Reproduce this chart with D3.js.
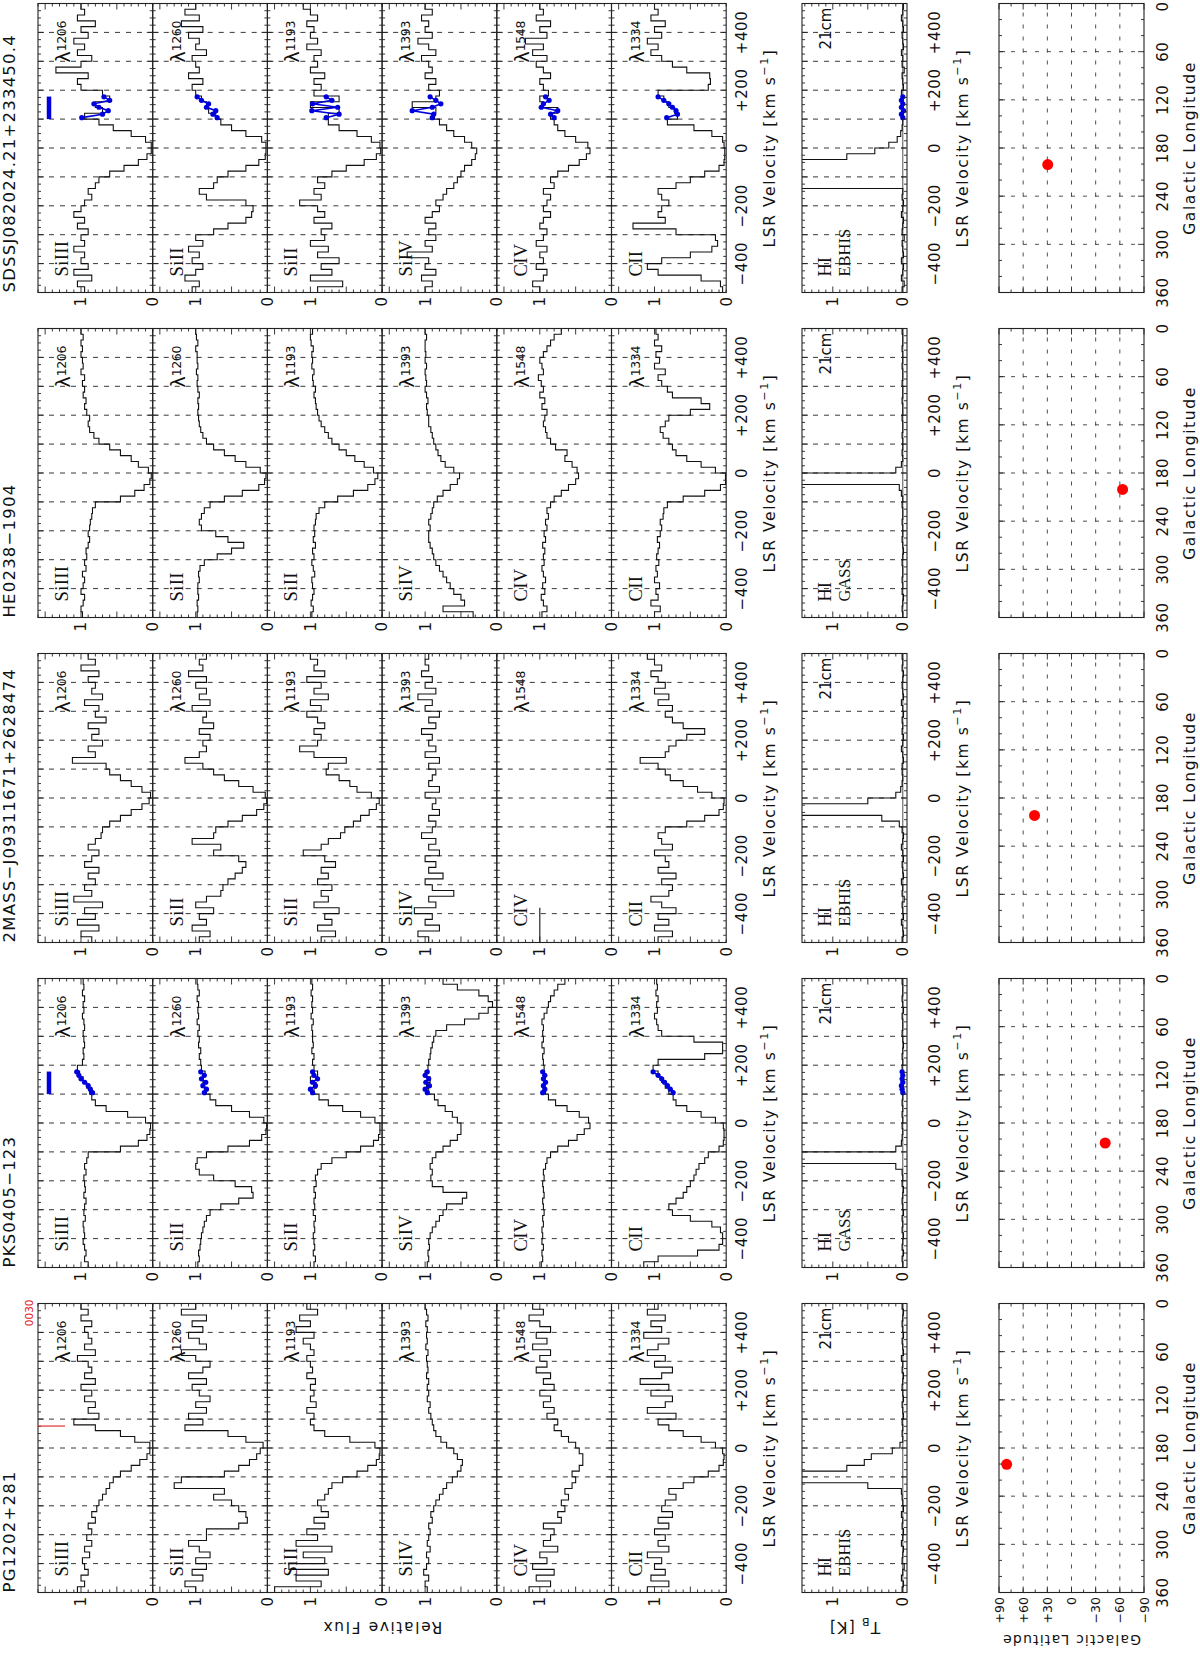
<!DOCTYPE html>
<html>
<head>
<meta charset="utf-8">
<title>HVC absorption spectra</title>
<script src="https://d3js.org/d3.v7.min.js"></script>
<style>
  body { margin: 0; background: #fff; }
  svg text { font-family: "DejaVu Sans", sans-serif; fill: #111; }
  .serif { font-family: "Liberation Serif", "DejaVu Serif", serif; }
</style>
</head>
<body>
<div id="chart"></div>
<script>
// ---------------- data ----------------
const quasars = ["PG1202+281", "PKS0405\u2212123", "2MASS\u2212J09311671+2628474", "HE0238\u22121904", "SDSSJ082024.21+233450.4"];
const ions = ["SiIII", "SiII", "SiII", "SiIV", "CIV", "CII"];
const lambdas = ["1206", "1260", "1193", "1393", "1548", "1334"];
const hiSurvey = ["EBHIS", "GASS", "EBHIS", "GASS", "EBHIS"];
const velTicks = ["\u2212400", "\u2212200", "0", "+200", "+400"];
const lonTicks = [360, 300, 240, 180, 120, 60, 0];
const latTicks = ["+90", "+60", "+30", "0", "\u221230", "\u221260", "\u221290"];

// bin centres of the spectra, km/s (20 km/s bins)
const velocity = d3.range(-490, 500, 20);

// relative flux, one array per quasar and line
const pg_1206 = [1.05,0.95,1.0,0.9,0.95, 0.98,0.88,0.95,0.85,0.92, 0.85,0.9,0.8,0.85,0.78, 0.75,0.7,0.65,0.6,0.55, 0.45,0.3,0.18,0.08,0.04, 0.04,0.25,0.45,0.8,1.1, 0.75,0.9,0.8,0.95,0.85, 1.0,0.8,0.95,0.85,0.9, 1.05,0.8,0.95,0.85,0.9, 0.95,0.85,1.0,0.9,1.0];
const pg_1260 = [1.0,1.15,0.9,1.05,0.85, 1.0,0.8,0.95,1.1,0.85, 0.85,0.4,0.28,0.3,0.4, 0.5,0.75,0.6,1.3,1.2, 0.6,0.4,0.25,0.15,0.1, 0.06,0.3,0.55,1.15,0.9, 1.1,0.85,1.0,0.8,0.95, 1.05,0.85,1.1,0.9,0.8, 1.0,1.2,0.85,0.95,1.1, 0.9,1.05,0.85,1.2,1.0];
const pg_1193 = [1.5,0.85,1.2,0.75,1.3, 0.8,1.1,0.7,1.2,0.9, 1.05,0.8,0.95,0.75,0.85, 0.9,0.8,0.75,0.7,0.55, 0.35,0.2,0.08,0.04,0.03, 0.1,0.45,0.8,0.95,1.0, 0.95,1.05,0.92,1.0,0.95, 1.0,0.93,1.05,0.97,1.0, 1.05,0.95,1.0,1.1,0.95, 1.2,1.0,1.15,0.9,1.05];
const pg_1393 = [0.97,1.0,0.95,1.02,0.98, 0.95,0.98,0.93,0.97,0.95, 0.93,0.95,0.9,0.92,0.88, 0.85,0.8,0.75,0.7,0.62, 0.55,0.5,0.48,0.55,0.6, 0.7,0.78,0.85,0.88,0.9, 0.92,0.95,0.93,0.97,0.95, 0.97,0.95,0.98,0.96,0.97, 0.98,0.96,0.99,0.97,0.98, 0.97,0.99,0.96,0.98,1.0];
const pg_1548 = [1.15,0.85,1.05,0.8,1.1, 0.9,1.0,0.75,0.95,0.85, 0.8,0.95,0.7,0.75,0.65, 0.7,0.6,0.65,0.55,0.5, 0.55,0.45,0.4,0.4,0.45, 0.5,0.6,0.7,0.8,0.75, 0.9,0.8,0.95,0.85,1.0, 0.8,0.95,0.85,1.05,0.9, 1.0,0.85,1.1,0.9,1.05, 0.85,1.0,1.15,0.95,1.1];
const pg_1334 = [1.1,0.8,1.05,0.85,1.0, 0.9,1.1,0.8,0.95,0.85, 1.0,0.8,0.95,0.75,0.9, 0.85,0.7,0.8,0.6,0.45, 0.25,0.1,0.04,0.03,0.05, 0.15,0.35,0.6,0.8,0.95, 0.7,1.1,0.85,0.75,1.05, 0.8,1.2,0.9,0.75,1.0, 0.85,1.1,0.95,0.8,1.15, 0.9,1.05,0.85,1.1,0.95];

const pks_1206 = [0.9,0.95,0.93,0.95,0.97, 0.95,0.96,0.97,0.94,0.96, 0.95,0.93,0.96,0.94,0.95, 0.96,0.93,0.95,0.92,0.9, 0.45,0.2,0.08,0.04,0.03, 0.1,0.35,0.65,0.8,0.85, 0.88,0.92,0.97,1.02,1.05, 0.98,0.96,0.97,0.95,0.96, 0.97,0.95,0.96,0.98,0.96, 0.97,0.95,0.98,0.96,0.97];
const pks_1260 = [0.97,0.95,0.96,0.94,0.93, 0.92,0.9,0.88,0.85,0.8, 0.65,0.4,0.2,0.22,0.45, 0.75,0.95,1.0,0.98,0.85, 0.55,0.25,0.08,0.02,0.01, 0.05,0.25,0.5,0.72,0.8, 0.85,0.88,0.9,0.87,0.92, 0.93,0.95,0.93,0.96,0.95, 0.97,0.95,0.98,0.96,0.97, 0.96,0.98,0.95,0.97,0.98];
const pks_1193 = [0.95,0.93,0.96,0.94,0.95, 0.96,0.94,0.95,0.93,0.96, 0.94,0.95,0.93,0.95,0.92, 0.93,0.9,0.85,0.7,0.5, 0.3,0.12,0.05,0.03,0.03, 0.1,0.3,0.55,0.75,0.88, 0.95,0.92,1.0,0.9,0.95, 0.97,0.95,0.98,0.96,0.97, 0.97,0.98,0.96,0.99,0.97, 0.98,0.97,0.99,0.97,0.98];
const pks_1393 = [0.97,0.95,0.96,0.94,0.95, 0.93,0.9,0.85,0.8,0.75, 0.7,0.48,0.42,0.75,0.9, 0.92,0.9,0.93,0.9,0.85, 0.75,0.65,0.55,0.5,0.5, 0.55,0.62,0.72,0.82,0.87, 0.95,0.98,0.93,1.0,0.96, 0.95,0.93,0.92,0.9,0.88, 0.85,0.7,0.45,0.25,0.12, 0.06,0.12,0.25,0.55,0.75];
const pks_1548 = [0.98,0.96,0.97,0.95,0.97, 0.96,0.97,0.95,0.96,0.94, 0.95,0.96,0.94,0.95,0.96, 0.94,0.95,0.92,0.9,0.85, 0.75,0.6,0.48,0.38,0.3, 0.32,0.45,0.62,0.78,0.88, 0.92,0.94,0.93,0.95,0.94, 0.95,0.96,0.94,0.97,0.95, 0.96,0.95,0.97,0.94,0.9, 0.88,0.85,0.8,0.75,0.65];
const pks_1334 = [1.15,0.95,0.4,0.1,0.05, 0.05,0.08,0.2,0.5,0.75, 0.8,0.7,0.6,0.55,0.5, 0.45,0.42,0.38,0.3,0.25, 0.1,0.04,0.03,0.03,0.04, 0.15,0.35,0.55,0.7,0.74, 0.8,0.85,0.9,0.95,1.02, 0.95,0.3,0.05,0.05,0.45, 0.9,0.95,0.97,1.0,0.96, 0.97,0.95,0.98,0.96,0.97];

const tm_1206 = [0.85,1.0,0.75,1.05,0.8, 0.95,0.7,1.1,0.85,0.95, 0.8,0.9,0.75,0.95,0.85, 0.75,0.9,0.8,0.72,0.7, 0.6,0.45,0.3,0.15,0.05, 0.03,0.15,0.3,0.45,0.6, 0.65,1.12,0.8,0.9,0.7, 0.85,0.75,0.9,0.65,0.8, 0.75,0.95,0.7,0.85,0.8, 0.9,0.75,1.0,0.8,0.9];
const tm_1260 = [0.95,0.8,1.05,0.85,0.95, 0.75,1.0,0.85,0.65,0.62, 0.55,0.45,0.35,0.3,0.4, 0.75,0.65,1.05,0.75,0.72, 0.55,0.35,0.15,0.05,0.01, 0.03,0.2,0.4,0.6,0.75, 0.9,1.15,0.95,0.85,0.9, 0.8,0.95,0.75,0.9,0.85, 1.05,0.8,0.95,0.85,1.0, 0.85,1.1,0.9,0.95,0.85];
const tm_1193 = [0.85,0.65,0.9,0.7,0.8, 0.6,0.95,0.75,0.85,0.7, 0.9,0.75,0.85,0.65,0.8, 1.1,0.85,0.75,0.58,0.52, 0.4,0.3,0.18,0.08,0.04, 0.15,0.35,0.45,0.6,0.78, 0.75,0.5,0.95,1.15,0.9, 0.85,0.95,0.8,0.9,1.05, 0.85,1.0,0.75,0.95,0.85, 1.05,0.8,0.95,0.9,1.0];
const tm_1393 = [0.95,1.1,0.8,1.0,0.9, 1.15,0.85,0.95,0.6,0.9, 1.0,0.75,0.95,0.85,1.0, 0.8,0.95,0.85,1.05,0.9, 0.85,0.95,0.8,0.9,0.85, 1.0,0.8,0.95,0.9,0.85, 0.95,0.8,1.0,0.85,0.95, 0.9,1.05,0.85,0.95,0.8, 1.0,0.9,1.1,0.85,1.0, 0.9,1.05,0.95,1.0,0.95];
const tm_1334 = [0.95,0.75,1.0,0.8,0.95, 0.7,0.9,1.05,0.8,0.75, 0.9,0.7,0.95,0.8,0.85, 1.0,0.75,0.9,0.95,0.85, 0.55,0.3,0.1,0.04,0.03, 0.2,0.4,0.6,0.78,0.85, 0.95,1.2,0.85,0.8,0.7, 0.55,0.3,0.6,0.75,0.85, 0.75,0.95,0.8,1.0,0.85, 0.95,1.05,0.9,1.0,1.1];
// no CIV spectrum for this sight line, only the short flux-1 marker
const tm_1548 = [1.0,1.0,1.0,1.0,1.0, 1.0,1.0];

const he_1206 = [0.98,1.0,0.97,0.95,1.0, 0.97,0.95,0.98,0.93,0.95, 0.92,0.93,0.9,0.88,0.9, 0.88,0.87,0.85,0.84,0.8, 0.45,0.25,0.12,0.04,0.02, 0.06,0.2,0.3,0.45,0.6, 0.75,0.82,0.88,0.9,0.88, 0.92,0.95,0.93,0.97,0.95, 0.98,0.95,1.0,0.97,0.98, 1.0,0.98,1.0,0.97,1.0];
const he_1260 = [0.98,0.97,0.98,0.96,0.97, 0.97,0.95,0.96,0.94,0.88, 0.7,0.5,0.33,0.55,0.72, 0.92,0.95,0.92,0.88,0.8, 0.6,0.35,0.12,0.04,0.02, 0.1,0.3,0.45,0.6,0.75, 0.85,0.9,0.93,0.95,0.96, 0.97,0.96,0.97,0.95,0.97, 0.98,0.97,0.99,0.97,0.98, 0.98,1.0,0.97,0.99,1.0];
const he_1193 = [0.98,0.96,0.99,0.97,0.95, 0.97,0.98,0.94,0.96,0.98, 0.95,0.97,0.93,0.96,0.94, 0.95,0.93,0.92,0.88,0.8, 0.62,0.4,0.2,0.1,0.06, 0.12,0.25,0.38,0.5,0.6, 0.7,0.75,0.8,0.85,0.88, 0.9,0.92,0.93,0.95,0.93, 0.96,0.97,0.95,0.98,0.97, 0.98,0.96,0.99,1.0,0.97];
const he_1393 = [0.33,0.75,0.45,0.5,0.6, 0.65,0.7,0.75,0.8,0.85, 0.88,0.9,0.93,0.95,0.95, 0.93,0.95,0.92,0.9,0.88, 0.83,0.75,0.65,0.55,0.52, 0.6,0.72,0.78,0.82,0.85, 0.88,0.9,0.92,0.95,0.95, 0.97,0.98,0.96,0.98,1.0, 0.98,0.99,1.0,0.98,1.0, 0.99,1.0,1.0,0.98,1.0];
const he_1548 = [0.97,0.9,0.95,0.98,0.93, 0.96,0.92,0.95,0.97,0.94, 0.95,0.93,0.96,0.92,0.94, 0.9,0.92,0.88,0.9,0.85, 0.8,0.7,0.6,0.5,0.46, 0.48,0.55,0.65,0.62,0.78, 0.85,0.9,0.92,0.95,0.93, 0.9,0.97,0.93,1.0,0.95, 0.98,1.02,0.95,0.97,1.0, 0.95,0.9,0.85,0.8,0.7];
const he_1334 = [1.0,0.92,1.05,0.95,0.98, 0.93,1.0,0.96,0.98,0.94, 0.97,0.95,0.93,0.96,0.92, 0.9,0.92,0.88,0.87,0.82, 0.6,0.3,0.08,0.01,0.01, 0.15,0.35,0.55,0.7,0.75, 0.8,0.88,0.92,0.85,0.8, 0.5,0.23,0.35,0.75,0.82, 0.9,0.95,0.85,1.0,0.93, 0.98,0.9,1.0,0.95,0.98];

const sd_1206 = [0.95,1.05,0.85,1.1,0.9, 1.0,0.95,1.1,0.95,1.0, 0.9,1.05,0.95,1.1,1.0, 0.95,0.85,0.9,0.8,0.75, 0.6,0.4,0.2,0.08,0.02, 0.02,0.1,0.3,0.55,0.75, 0.95,0.7,0.8,0.6,0.7, 1.0,1.05,0.9,1.35,1.0, 0.85,1.05,0.95,1.1,0.9, 1.0,0.8,1.05,0.95,1.0];
const sd_1260 = [1.05,0.95,1.15,1.0,0.9, 1.05,0.95,1.1,0.9,1.0, 0.75,0.55,0.3,0.22,0.2, 0.3,0.85,0.95,0.75,0.7, 0.55,0.3,0.12,0.03,0.02, 0.02,0.08,0.3,0.5,0.65, 0.72,0.82,0.85,0.92,1.0, 1.05,0.9,1.1,0.95,1.0, 1.05,0.85,1.0,0.95,1.1, 0.9,1.2,0.95,1.15,1.0];
const sd_1193 = [0.9,0.55,1.0,0.7,0.85, 0.6,0.9,0.75,1.0,0.8, 0.85,0.7,0.95,0.8,0.9, 1.15,0.85,0.95,0.8,0.9, 0.7,0.5,0.25,0.08,0.02, 0.03,0.15,0.35,0.6,0.75, 0.75,0.6,1.0,0.6,0.95, 0.85,0.95,0.8,1.0,0.9, 0.95,0.85,1.05,0.9,1.0, 0.95,1.05,0.9,1.0,1.1];
const sd_1393 = [1.0,0.9,1.05,0.85,1.0, 0.95,1.25,0.9,1.0,0.85, 0.95,0.85,1.0,0.9,0.8, 0.85,0.75,0.7,0.6,0.55, 0.5,0.45,0.35,0.3,0.28, 0.35,0.45,0.6,0.7,0.8, 0.87,0.85,1.18,0.85,0.8, 0.95,0.85,1.0,0.9,0.95, 1.05,0.85,0.95,1.1,0.9, 1.0,0.95,1.05,0.9,1.0];
const sd_1548 = [1.0,1.1,0.95,0.9,1.05, 0.95,1.0,0.9,1.05,0.95, 0.9,1.0,0.95,0.85,0.95, 0.9,0.85,0.95,0.8,0.85, 0.75,0.6,0.45,0.35,0.3, 0.33,0.5,0.65,0.75,0.8, 0.85,0.75,0.95,1.0,0.88, 0.95,1.0,0.85,0.95,1.05, 0.9,1.1,0.95,1.2,0.9, 1.0,0.85,1.05,0.95,1.0];
const sd_1334 = [0.05,0.08,0.35,0.95,1.1, 0.9,0.5,0.2,0.12,0.15, 0.7,1.3,0.85,0.95,0.9, 0.8,0.9,0.95,0.7,0.5, 0.3,0.1,0.03,0.02,0.02, 0.03,0.05,0.2,0.45,0.82, 0.68,0.72,0.8,0.87,0.95, 0.25,0.22,0.23,0.55,0.75, 0.9,1.05,0.95,1.1,0.9, 1.0,0.85,1.05,0.95,1.0];

// 21cm brightness temperature (scaled), one array per quasar; the peaks run off the panel
const pg_hi  = [0.01,-0.01,0.02,0.0,-0.02, 0.01,0.0,-0.01,0.02,0.0, -0.01,0.01,0.0,0.02,-0.01, 0.0,0.01,0.02,0.5,3.0, 3.0,0.8,0.55,0.45,0.15, 0.04,0.0,0.01,0.0,0.01, -0.01,0.0,0.01,-0.01,0.0, 0.01,0.0,-0.01,0.01,0.0, 0.02,-0.01,0.0,0.01,-0.01, 0.0,0.01,0.0,-0.01,0.01];
const pks_hi = [0.0,0.01,-0.01,0.01,0.0, -0.01,0.01,0.0,0.01,-0.01, 0.0,0.01,0.0,-0.01,0.01, 0.0,0.01,0.1,3.0,3.0, 0.1,0.02,0.01,0.0,0.01, 0.0,0.01,0.0,0.01,0.0, 0.01,0.0,-0.01,0.0,0.01, 0.0,0.01,0.0,-0.01,0.0, 0.01,0.0,0.0,0.01,-0.01, 0.0,0.01,0.0,0.0,0.01];
const tm_hi  = [0.01,-0.01,0.0,0.02,-0.01, 0.0,0.01,-0.02,0.01,0.0, 0.02,-0.01,0.0,0.01,-0.01, 0.0,0.02,0.0,-0.01,0.01, 0.05,0.3,3.0,3.0,0.5, 0.1,0.03,0.01,0.0,0.01, 0.01,-0.01,0.0,0.02,0.0, -0.01,0.01,0.0,0.01,-0.01, 0.0,0.02,-0.01,0.0,0.01, 0.0,-0.01,0.01,0.0,0.01];
const he_hi  = [0.0,0.01,0.0,-0.01,0.01, 0.0,0.01,0.0,0.0,0.01, 0.0,-0.01,0.0,0.01,0.0, 0.0,0.01,0.0,0.0,0.01, 0.0,0.02,0.05,3.0,3.0, 0.1,0.02,0.0,0.01,0.0, 0.0,0.01,0.0,0.0,0.01, 0.0,0.0,0.01,0.0,0.0, 0.01,0.0,0.0,0.01,0.0, 0.0,0.01,0.0,0.0,0.01];
const sd_hi  = [0.01,-0.02,0.02,0.0,-0.01, 0.02,-0.01,0.0,0.01,-0.02, 0.01,0.0,-0.01,0.02,0.0, -0.01,0.01,0.0,3.0,3.0, 3.0,3.0,3.0,0.8,0.4, 0.2,0.08,0.03,0.01,0.0, 0.02,-0.01,0.01,0.0,0.02, -0.01,0.0,0.01,-0.02,0.01, 0.0,0.02,-0.01,0.0,0.01, -0.01,0.0,0.02,0.0,-0.01];

// high-velocity points marked in blue (PKS0405-123 and SDSSJ0820 only)
const blueVel = [105, 117, 129, 141, 153, 165, 177];
const pks_blue = [[0.84,0.87,0.9,0.95,1.0,1.03,1.06],[0.88,0.85,0.9,0.86,0.92,0.88,0.93],[0.97,1.0,0.93,0.97,0.9,0.95,0.97],
                  [0.97,1.0,0.94,0.99,0.95,1.0,0.97],[0.96,0.93,0.95,0.92,0.95,0.93,0.96],[0.74,0.78,0.82,0.86,0.9,0.95,1.02]];
const pks_blue_hi = [0.0,0.01,0.02,0.0,0.01,0.0,0.01];
const sd_blue = [[0.99,0.7,0.62,0.75,0.82,0.6,0.68],[0.7,0.76,0.72,0.85,0.82,0.92,0.98],[0.78,0.6,0.98,0.62,0.97,0.7,0.78],
                 [0.9,0.88,1.18,0.9,0.78,0.85,0.93],[0.8,0.85,0.75,0.98,0.95,0.87,0.92],[0.83,0.68,0.7,0.75,0.8,0.87,0.95]];
const sd_blue_hi = [0.0,0.02,-0.01,0.02,0.0,0.02,0.0];
const blueBar = [100, 178];        // velocity range of the blue bar, km/s
const redMark = 76;                // velocity of the red marker in PG1202+281

// galactic coordinates of the sight lines
const glon = [200.3, 204.9, 201.7, 200.5, 200.6];
const glat = [80.5, -41.8, 45.9, -63.4, 29.5];

const fluxTable = [
  [pg_1206, pg_1260, pg_1193, pg_1393, pg_1548, pg_1334],
  [pks_1206, pks_1260, pks_1193, pks_1393, pks_1548, pks_1334],
  [tm_1206, tm_1260, tm_1193, tm_1393, null, tm_1334],
  [he_1206, he_1260, he_1193, he_1393, he_1548, he_1334],
  [sd_1206, sd_1260, sd_1193, sd_1393, sd_1548, sd_1334]
];
const hiTable = [pg_hi, pks_hi, tm_hi, he_hi, sd_hi];
const blueTable = [null, pks_blue, null, null, sd_blue];
const blueHiTable = [null, pks_blue_hi, null, null, sd_blue_hi];

// ---------------- layout ----------------
const W = 1200, H = 1655;
const colW = 289, colStep = 325, col0 = 62.5;
const panelTop = 38, panelH = 114.7;
const hiTop = 802, hiH = 105;
const mapTop = 999, mapH = 145;

const svg = d3.select("#chart").append("svg")
    .attr("width", W).attr("height", H)
    .style("background", "#fff");

// the figure is laid out in landscape and turned a quarter turn onto the page
const fig = svg.append("g").attr("transform", `translate(0,${H}) rotate(-90)`);

const xVel = d3.scaleLinear().domain([-500, 500]).range([0, colW]);
const yFlux = d3.scaleLinear().domain([0, 1.6]).range([panelH, 0]);
const yTb = d3.scaleLinear().domain([-0.06, 1.44]).range([hiH, 0]);
const xLon = d3.scaleLinear().domain([360, 0]).range([0, colW]);
const yLat = d3.scaleLinear().domain([90, -90]).range([0, mapH]);

const ink = "#222";
let clipId = 0;

function frame(g, w, h, xScale, xMajor, xMinor, yScale, yMajor, yMinor) {
  const t = g.append("g").attr("stroke", ink).attr("stroke-width", 0.9);
  xMinor.forEach(v => {
    const x = xScale(v), L = xMajor.includes(v) ? 6 : 3;
    t.append("line").attr("x1", x).attr("x2", x).attr("y1", 0).attr("y2", L);
    t.append("line").attr("x1", x).attr("x2", x).attr("y1", h).attr("y2", h - L);
  });
  yMinor.forEach(v => {
    const y = yScale(v), L = yMajor.includes(v) ? 6 : 3;
    t.append("line").attr("x1", 0).attr("x2", L).attr("y1", y).attr("y2", y);
    t.append("line").attr("x1", w).attr("x2", w - L).attr("y1", y).attr("y2", y);
  });
  g.append("rect").attr("width", w).attr("height", h)
    .attr("fill", "none").attr("stroke", ink).attr("stroke-width", 1.1);
}

function clipped(g, w, h) {
  const id = "clip" + (clipId++);
  g.append("clipPath").attr("id", id).append("rect").attr("width", w).attr("height", h);
  return g.append("g").attr("clip-path", `url(#${id})`);
}

function velGrid(g, h) {
  g.append("g").selectAll("line").data(d3.range(-400, 401, 100)).join("line")
    .attr("x1", d => xVel(d)).attr("x2", d => xVel(d))
    .attr("y1", 0).attr("y2", h)
    .attr("stroke", ink).attr("stroke-width", 0.9).attr("stroke-dasharray", "5,6");
}

function stepLine(vals, yScale) {
  const pts = vals.map((f, i) => [velocity[i] - 10, f]);
  pts.push([velocity[vals.length - 1] + 10, vals[vals.length - 1]]);
  return d3.line().curve(d3.curveStepAfter)
    .x(d => xVel(d[0])).y(d => yScale(d[1]))(pts);
}

function blueMarks(g, vals, yScale) {
  const pts = blueVel.map((v, i) => [v, vals[i]]);
  g.append("path").attr("d", d3.line().x(d => xVel(d[0])).y(d => yScale(d[1]))(pts))
    .attr("fill", "none").attr("stroke", "#0000dd").attr("stroke-width", 1.6);
  g.selectAll(null).data(pts).join("circle")
    .attr("cx", d => xVel(d[0])).attr("cy", d => yScale(d[1])).attr("r", 2.6)
    .attr("fill", "#0000dd");
}

// left-axis numbers, upright and set against the axis
function sideLabel(g, x, y, txt, size) {
  g.append("text").attr("x", x).attr("y", y + size * 0.36)
    .attr("text-anchor", "end").attr("font-size", size).text(txt);
}

const fluxMinor = d3.range(0, 1.61, 0.1).map(v => +v.toFixed(1));
const tbMinor = d3.range(0, 1.41, 0.1).map(v => +v.toFixed(1));
const velMinor = d3.range(-500, 501, 25);
const velMajor = d3.range(-500, 501, 100);

quasars.forEach((name, qi) => {
  const qx = col0 + qi * colStep;
  const col = fig.append("g").attr("transform", `translate(${qx},0)`);

  col.append("text").attr("x", 0).attr("y", 15).attr("font-size", 16.5)
    .attr("letter-spacing", 1.2).text(name);

  // ---- absorption panels ----
  ions.forEach((ion, li) => {
    const py = panelTop + li * panelH;
    const p = col.append("g").attr("transform", `translate(0,${py})`);
    velGrid(p, panelH);
    const inner = clipped(p, colW, panelH);
    const vals = fluxTable[qi][li];
    if (vals) {
      inner.append("path").attr("d", stepLine(vals, yFlux))
        .attr("fill", "none").attr("stroke", "#111").attr("stroke-width", 1.1);
    } else {
      // short flux-1 marker only
      const mk = d3.range(-500, -361, 20).slice(0, tm_1548.length).map((v, i) => [v, tm_1548[i]]);
      inner.append("path").attr("d", d3.line().x(d => xVel(d[0])).y(d => yFlux(d[1]))(mk))
        .attr("fill", "none").attr("stroke", "#111").attr("stroke-width", 1.1);
    }
    if (blueTable[qi]) blueMarks(inner, blueTable[qi][li], yFlux);
    frame(p, colW, panelH, xVel, velMajor, velMinor, yFlux, [0.5, 1, 1.5], fluxMinor);

    if (li === 0 && blueTable[qi]) {
      p.append("line").attr("x1", xVel(blueBar[0])).attr("x2", xVel(blueBar[1]))
        .attr("y1", 11).attr("y2", 11).attr("stroke", "#0000dd").attr("stroke-width", 4.5);
    }
    if (li === 0 && qi === 0) {
      p.append("line").attr("x1", xVel(redMark)).attr("x2", xVel(redMark))
        .attr("y1", 0).attr("y2", 27).attr("stroke", "#e03030").attr("stroke-width", 1.2);
      p.append("text").attr("x", colW + 4).attr("y", -5).attr("text-anchor", "end")
        .attr("font-size", 10.5).style("fill", "#e02020").text("0030");
    }

    p.append("text").attr("class", "serif").attr("x", 16).attr("y", 30)
      .attr("font-size", 18.5).attr("letter-spacing", 0.4).text(ion);
    const lt = p.append("text").attr("x", 230).attr("y", 32);
    lt.append("tspan").attr("font-size", 19).text("\u03bb");
    lt.append("tspan").attr("font-size", 12.5).attr("letter-spacing", -0.4).attr("dy", -4).text(lambdas[li]);

    sideLabel(p, -4.5, yFlux(1), "1", 15);
    sideLabel(p, -4.5, panelH, "0", 15);
  });

  const velLabels = (y) => {
    col.append("g").selectAll("text").data(velTicks).join("text")
      .attr("x", (d, i) => xVel(-400 + i * 200)).attr("y", y)
      .attr("text-anchor", "middle").attr("font-size", 15).attr("letter-spacing", 0.6)
      .text(d => d);
    const t = col.append("text").attr("x", colW / 2).attr("y", y + 28)
      .attr("text-anchor", "middle").attr("font-size", 15.5).attr("letter-spacing", 1.6);
    t.append("tspan").text("LSR Velocity [km s");
    t.append("tspan").attr("font-size", 11).attr("dy", -7).text("\u22121");
    t.append("tspan").attr("dy", 7).text("]");
  };
  velLabels(panelTop + 6 * panelH + 21);

  // ---- 21cm panel ----
  const hp = col.append("g").attr("transform", `translate(0,${hiTop})`);
  velGrid(hp, hiH);
  const hin = clipped(hp, colW, hiH);
  hin.append("line").attr("x1", 0).attr("x2", colW).attr("y1", yTb(0)).attr("y2", yTb(0))
    .attr("stroke", ink).attr("stroke-width", 0.8);
  hin.append("path").attr("d", stepLine(hiTable[qi], yTb))
    .attr("fill", "none").attr("stroke", "#111").attr("stroke-width", 1.1);
  if (blueHiTable[qi]) blueMarks(hin, blueHiTable[qi], yTb);
  frame(hp, colW, hiH, xVel, velMajor, velMinor, yTb, [0, 0.5, 1], tbMinor);
  hp.append("text").attr("class", "serif").attr("x", 16).attr("y", 29).attr("font-size", 18.5).text("HI");
  hp.append("text").attr("class", "serif").attr("x", 16).attr("y", 48).attr("font-size", 16.5).text(hiSurvey[qi]);
  hp.append("text").attr("x", 243).attr("y", 29).attr("font-size", 15).text("21cm");
  sideLabel(hp, -4.5, yTb(1), "1", 15);
  sideLabel(hp, -4.5, yTb(0), "0", 15);
  velLabels(hiTop + hiH + 33);

  // ---- sky position ----
  const mp = col.append("g").attr("transform", `translate(0,${mapTop})`);
  mp.append("g").selectAll("line").data([300, 240, 180, 120, 60]).join("line")
    .attr("x1", d => xLon(d)).attr("x2", d => xLon(d)).attr("y1", 0).attr("y2", mapH)
    .attr("stroke", ink).attr("stroke-width", 0.8).attr("stroke-dasharray", "4,8");
  mp.append("g").selectAll("line").data([60, 30, 0, -30, -60]).join("line")
    .attr("x1", 0).attr("x2", colW).attr("y1", d => yLat(d)).attr("y2", d => yLat(d))
    .attr("stroke", ink).attr("stroke-width", 0.8).attr("stroke-dasharray", "4,8");
  frame(mp, colW, mapH, xLon, [360, 300, 240, 180, 120, 60, 0], d3.range(0, 361, 20),
        yLat, [90, 60, 30, 0, -30, -60, -90], d3.range(-90, 91, 15));
  mp.append("circle").attr("cx", xLon(glon[qi])).attr("cy", yLat(glat[qi])).attr("r", 5.5)
    .attr("fill", "#ff0000");
  // the last "0" sits at the page edge; keep it just inside
  mp.append("g").selectAll("text").data(lonTicks).join("text")
    .attr("x", d => (qi === quasars.length - 1 && d === 0) ? colW - 3 : xLon(d))
    .attr("y", mapH + 24).attr("text-anchor", "middle")
    .attr("font-size", 15).attr("letter-spacing", 0.6).text(d => d);
  mp.append("text").attr("x", colW / 2).attr("y", mapH + 51).attr("text-anchor", "middle")
    .attr("font-size", 15.5).attr("letter-spacing", 1.6).text("Galactic Longitude");

  if (qi === 0) {
    latTicks.forEach((d, i) => sideLabel(mp, -4.5, yLat(90 - i * 30), d, 12.5));
    col.append("text").attr("transform", `translate(-29,${panelTop + 3 * panelH}) rotate(-90)`)
      .attr("text-anchor", "middle").attr("font-size", 15.5).attr("letter-spacing", 1.6).text("Relative Flux");
    const tb = col.append("text").attr("transform", `translate(-29,${hiTop + hiH / 2}) rotate(-90)`)
      .attr("text-anchor", "middle").attr("font-size", 15.5).attr("letter-spacing", 1.2);
    tb.append("tspan").text("T");
    tb.append("tspan").attr("font-size", 11).attr("dy", 4).text("B");
    tb.append("tspan").attr("dy", -4).text(" [K]");
    col.append("text").attr("transform", `translate(-42,${mapTop + mapH / 2}) rotate(-90)`)
      .attr("text-anchor", "middle").attr("font-size", 14).attr("letter-spacing", 1.2).text("Galactic Latitude");
  }
});
</script>
</body>
</html>
